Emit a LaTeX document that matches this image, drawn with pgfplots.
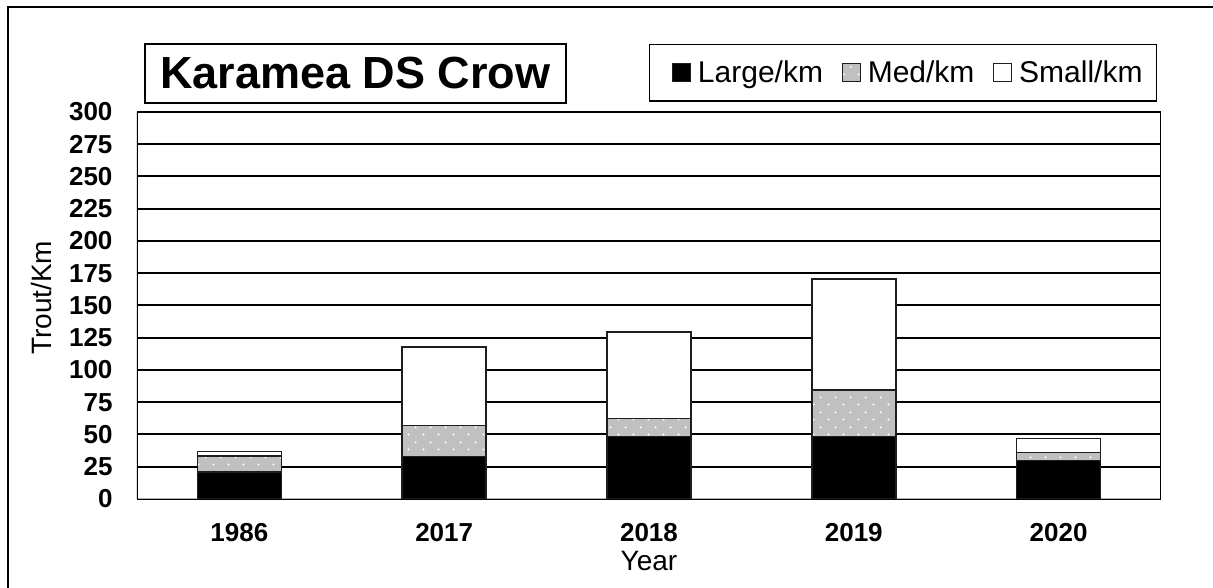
\documentclass[border=0pt]{standalone}
\usepackage{pgfplots}
\pgfplotsset{compat=1.18}
\usepackage{fontspec}
\setmainfont{Liberation Sans}
\usetikzlibrary{patterns}
\definecolor{medgray}{RGB}{192,192,192}
\definecolor{barline}{RGB}{30,30,30}
\pgfdeclarepatternformonly{sparsedots}{\pgfpointorigin}{\pgfqpoint{15pt}{15pt}}{\pgfqpoint{15pt}{15pt}}{%
  \pgfpathcircle{\pgfqpoint{3.75pt}{3.75pt}}{1.2pt}%
  \pgfpathcircle{\pgfqpoint{11.25pt}{11.25pt}}{1.2pt}%
  \pgfusepath{fill}}
\pgfplotstableread{
x L M S
0 21 12.5 3.5
1 33 24 61
2 48.5 14 67
3 48.5 36 86
4 30 6 11
}\trout
\begin{document}
\begin{tikzpicture}
\useasboundingbox (0,0) rectangle (1213pt,588pt);
\draw[line width=1.5pt] (8pt,0) -- (8pt,581pt) -- (1213pt,581pt);
\node[draw=black, line width=1.5pt, minimum width=421pt, minimum height=59pt, inner sep=0pt,
  font=\fontsize{45}{50}\selectfont\bfseries] at (355.5pt,514.5pt) {Karamea DS Crow};
\begin{axis}[
  at={(137pt,89pt)}, anchor=south west,
  scale only axis, width=1024pt, height=387pt,
  ybar stacked, bar width=84pt,
  xmin=-0.5, xmax=4.5, ymin=0, ymax=300,
  xtick=data, xticklabels={1986,2017,2018,2019,2020},
  ytick={0,25,...,300},
  major tick length=0pt,
  ymajorgrids, major grid style={black, line width=2pt},
  axis line style={draw=none},
  /pgf/number format/assume math mode=true,
  ticklabel style={font=\fontsize{26}{28}\selectfont\bfseries},
  yticklabel style={xshift=-21pt},
  xticklabel style={yshift=-21pt},
  xlabel={Year}, ylabel={Trout/Km},
  every axis y label/.style={at={(axis description cs:-0.093,0.52)}, rotate=90, anchor=center, font=\fontsize{28}{30}\selectfont},
  every axis x label/.style={at={(axis description cs:0.5,-0.16)}, anchor=center, font=\fontsize{28}{30}\selectfont},
  legend columns=3,
  legend style={at={(axis description cs:0.5,1.1757)}, anchor=north west,
    draw=black, line width=1.5pt, inner xsep=12pt, inner ysep=14.5pt,
    font=\fontsize{30}{32}\selectfont,
    nodes={inner xsep=2pt},
    /tikz/every odd column/.append style={column sep=5pt},
    /tikz/every even column/.append style={column sep=6.5pt}},
  legend image code/.code={\path (0pt,0pt); \draw[#1, line width=1pt] (10pt,-9pt) rectangle (28pt,9pt);},
]
\addplot[fill=black, draw=barline, line width=1.5pt] table[x=x,y=L] {\trout};
\addplot[fill=medgray, draw=barline, line width=1.5pt, postaction={pattern=sparsedots, pattern color=white}] table[x=x,y=M] {\trout};
\addplot[fill=white, draw=barline, line width=1.5pt] table[x=x,y=S] {\trout};
\legend{Large/km, Med/km, Small/km}
\draw[black, line width=2pt] (rel axis cs:0,0) -- (rel axis cs:0,1);
\draw[black, line width=2pt] (rel axis cs:1,0) -- (rel axis cs:1,1);
\draw[black!30, line width=2.5pt] (rel axis cs:0,0) -- (rel axis cs:1,0);
\end{axis}
\end{tikzpicture}
\end{document}
